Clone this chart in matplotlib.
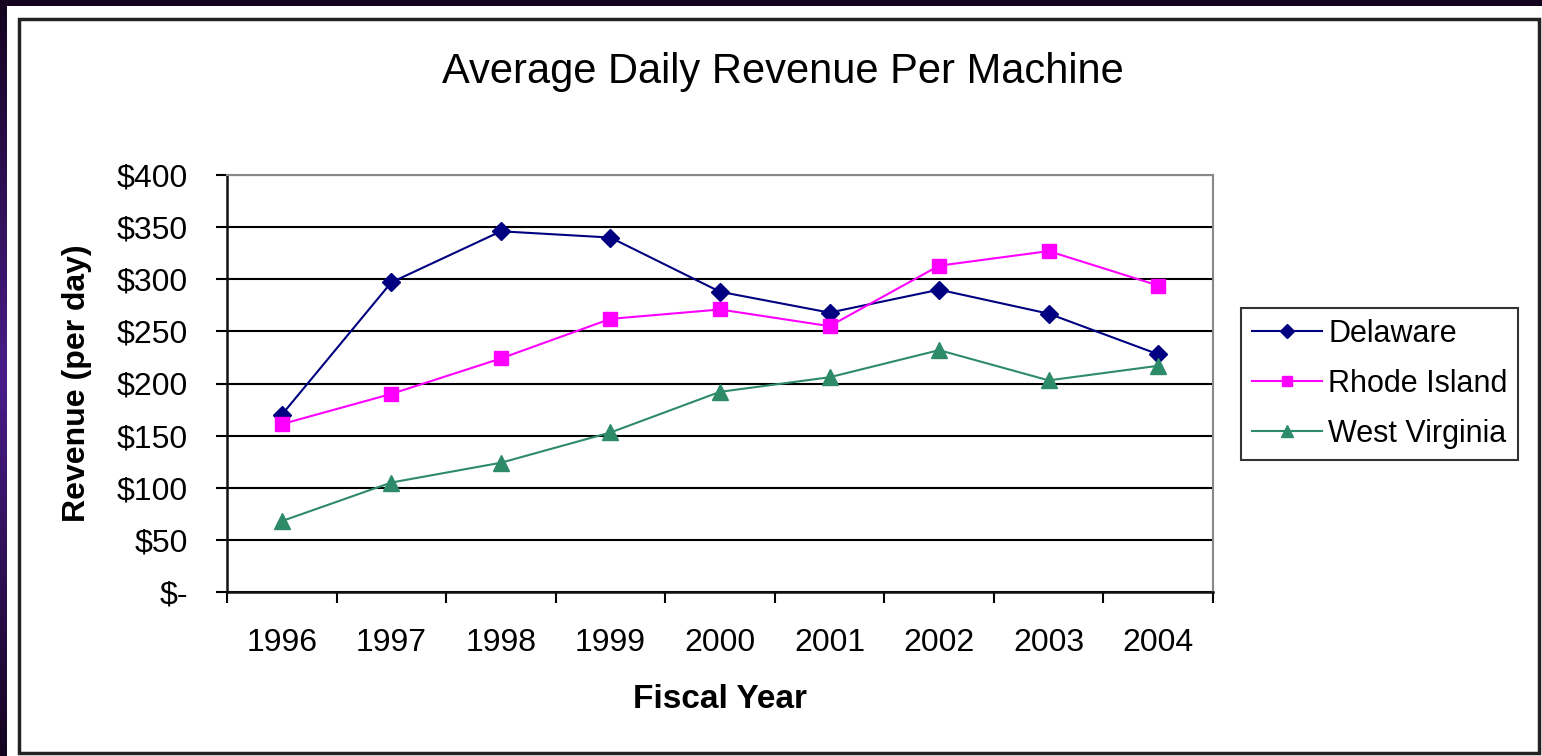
import numpy as np
import matplotlib.pyplot as plt
from matplotlib.patches import Rectangle

plt.rcParams['font.family'] = ['Liberation Sans', 'DejaVu Sans']

years = ['1996', '1997', '1998', '1999', '2000', '2001', '2002', '2003', '2004']
delaware = [170, 297, 346, 340, 288, 268, 290, 267, 228]
rhode_island = [161, 190, 224, 262, 271, 255, 313, 327, 294]
west_virginia = [68, 105, 124, 153, 192, 206, 232, 203, 217]
y_ticks = [0, 50, 100, 150, 200, 250, 300, 350, 400]
y_labels = ['$-', '$50', '$100', '$150', '$200', '$250', '$300', '$350', '$400']

W, H = 1542, 756
fig = plt.figure(figsize=(W / 100, H / 100), dpi=100)

# dark purple frame behind the slide
bg = fig.add_axes([0, 0, 1, 1], zorder=-10)
grad = np.linspace(0, 1, 256)
cmap = plt.matplotlib.colors.LinearSegmentedColormap.from_list(
    'p', ['#14041f', '#4a1c8a', '#14041f'])
bg.imshow(np.vstack([grad, grad]).T, cmap=cmap, aspect='auto', extent=[0, 1, 0, 1])
bg.set_xlim(0, 1)
bg.set_ylim(0, 1)
bg.axis('off')
bg.add_patch(Rectangle((7 / W, 0), 1, 1 - 6 / H, facecolor='white', edgecolor='none'))
bg.add_patch(Rectangle((19 / W, 3 / H), (1539 - 19) / W, (737 - 3) / H,
                       facecolor='none', edgecolor='#222222', lw=2.5))

x = np.arange(len(years))
ax = fig.add_axes([227 / W, 1 - 592 / H, (1213 - 227) / W, (592 - 175) / H])
ax.set_facecolor('none')

ax.plot(x, delaware, color='#000080', marker='D', ms=9, lw=1.5, label='Delaware', zorder=3)
ax.plot(x, rhode_island, color='#FF00FF', marker='s', ms=10.5, lw=1.5, label='Rhode Island', zorder=3)
ax.plot(x, west_virginia, color='#2E8B6A', marker='^', ms=11, lw=1.5, label='West Virginia', zorder=3)

ax.set_xlim(-0.5, len(years) - 0.5)
ax.set_ylim(0, 400)
ax.set_yticks(y_ticks)
ax.set_yticklabels(y_labels)
ax.set_xticks(x)
ax.set_xticklabels(years)
ax.set_xticks(np.arange(-0.5, len(years)), minor=True)
ax.tick_params(axis='x', which='major', length=0, pad=26, labelsize=23)
ax.tick_params(axis='x', which='minor', length=8, width=1.5, direction='out')
ax.tick_params(axis='y', length=8, width=1.5, direction='out', labelsize=23, pad=20)
ax.yaxis.grid(True, color='black', lw=1.5)
ax.set_axisbelow(True)
for s in ['left', 'bottom']:
    ax.spines[s].set_linewidth(1.8)
    ax.spines[s].set_color('#111111')
for s in ['top', 'right']:
    ax.spines[s].set_linewidth(1.5)
    ax.spines[s].set_color('#888888')

ax.set_xlabel('Fiscal Year', fontsize=24, fontweight='bold', labelpad=19)
ax.set_ylabel('Revenue (per day)', fontsize=23, fontweight='bold', labelpad=18)
fig.text(783 / W, 1 - 72 / H, 'Average Daily Revenue Per Machine', fontsize=30,
         ha='center', va='center')

leg = ax.legend(loc='center left', bbox_to_anchor=(1241 / W, 1 - 384 / H),
                bbox_transform=fig.transFigure, fontsize=22, frameon=True,
                fancybox=False, edgecolor='black', handlelength=2.3,
                handletextpad=0.2, borderpad=0.35, labelspacing=0.65,
                borderaxespad=0, markerscale=0.75)
leg.get_frame().set_linewidth(1.5)

fig.savefig('out.png', dpi=100)
